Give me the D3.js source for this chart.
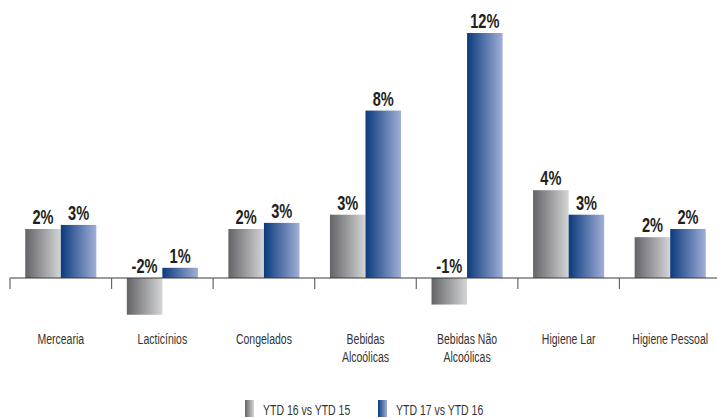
<!DOCTYPE html>
<html>
<head>
<meta charset="utf-8">
<script src="https://cdn.jsdelivr.net/npm/d3@7"></script>
<style>
  body { margin: 0; background: #fff; }
  svg { display: block; font-family: "Liberation Sans Narrow", "Liberation Sans", sans-serif; }
</style>
</head>
<body>
<svg id="chart" width="717" height="418"></svg>
<script>
// categories (second element = optional second line)
const categories = [
  ["Mercearia"],
  ["Lacticínios"],
  ["Congelados"],
  ["Bebidas", "Alcoólicas"],
  ["Bebidas Não", "Alcoólicas"],
  ["Higiene Lar"],
  ["Higiene Pessoal"]
];
const seriesNames = ["YTD 16 vs YTD 15", "YTD 17 vs YTD 16"];
// values in %
const ytd16 = [2.4, -1.8, 2.4, 3.1, -1.3, 4.3, 2.0];
const ytd17 = [2.6, 0.5, 2.7, 8.2, 12.0, 3.1, 2.4];

const width = 717, height = 418;
const svg = d3.select("#chart");

// gradients for the bar fills
const defs = svg.append("defs");
const grads = [
  { id: "gGray", from: "#646468", to: "#d4d5d7" },
  { id: "gBlue", from: "#0b3a7c", to: "#a1afd8" }
];
grads.forEach(g => {
  const lg = defs.append("linearGradient").attr("id", g.id)
    .attr("x1", "0%").attr("x2", "100%").attr("y1", "0%").attr("y2", "0%");
  lg.append("stop").attr("offset", "0%").attr("stop-color", g.from);
  lg.append("stop").attr("offset", "100%").attr("stop-color", g.to);
});
const fills = ["url(#gGray)", "url(#gBlue)"];

// scales
const names = categories.map(d => d.join(" "));
const x = d3.scaleBand().domain(names).range([10, 721])
  .paddingInner(0.3).paddingOuter(0.15);
const xSub = d3.scaleBand().domain([0, 1]).range([0, x.bandwidth()]);
const y = d3.scaleLinear().domain([0, 12]).range([278, 33]);

const rows = names.map((n, i) => ({ name: n, vals: [ytd16[i], ytd17[i]] }));

// bars
const groups = svg.append("g").selectAll("g")
  .data(rows)
  .join("g")
    .attr("transform", d => `translate(${x(d.name)},0)`);

groups.selectAll("rect")
  .data(d => d.vals.map((v, k) => ({ v, k })))
  .join("rect")
    .attr("x", d => xSub(d.k))
    .attr("y", d => y(Math.max(0, d.v)))
    .attr("width", xSub.bandwidth())
    .attr("height", d => Math.abs(y(d.v) - y(0)))
    .attr("fill", d => fills[d.k]);

// value labels (condensed via scaleX, the original font is very narrow)
groups.selectAll("text")
  .data(d => d.vals.map((v, k) => ({ v, k })))
  .join("text")
    .attr("transform", d => `translate(${xSub(d.k) + xSub.bandwidth() / 2},${y(Math.max(0, d.v)) - 5}) scale(0.73,1)`)
    .attr("text-anchor", "middle")
    .attr("font-size", 20)
    .attr("font-weight", "bold")
    .attr("fill", "#231f20")
    .text(d => Math.round(d.v) + "%");

// baseline axis with ticks at the band edges
const step = x.step();
svg.append("line")
  .attr("x1", 10).attr("x2", width)
  .attr("y1", y(0)).attr("y2", y(0))
  .attr("stroke", "#3a3a3a").attr("stroke-width", 1.2);

svg.append("g").selectAll("line")
  .data(names)
  .join("line")
    .attr("x1", d => x(d) - step * 0.15)
    .attr("x2", d => x(d) - step * 0.15)
    .attr("y1", y(0)).attr("y2", y(0) + 11)
    .attr("stroke", "#666").attr("stroke-width", 1.2);

// category labels
const catG = svg.append("g").selectAll("text")
  .data(categories)
  .join("text")
    .attr("transform", (d, i) => `translate(${x(names[i]) + x.bandwidth() / 2},344) scale(0.75,1)`)
    .attr("text-anchor", "middle")
    .attr("font-size", 14)
    .attr("fill", "#333");
catG.selectAll("tspan")
  .data(d => d)
  .join("tspan")
    .attr("x", 0)
    .attr("dy", (d, j) => j === 0 ? 0 : 18)
    .text(d => d);

// legend
const legendX = [245, 378];
const legend = svg.append("g").selectAll("g")
  .data(seriesNames)
  .join("g")
    .attr("transform", (d, i) => `translate(${legendX[i]},400)`);
legend.append("rect")
  .attr("width", 9).attr("height", 17)
  .attr("fill", (d, i) => fills[i]);
legend.append("text")
  .attr("transform", "translate(18,15) scale(0.7,1)")
  .attr("font-size", 15)
  .attr("fill", "#333")
  .text(d => d);
</script>
</body>
</html>
